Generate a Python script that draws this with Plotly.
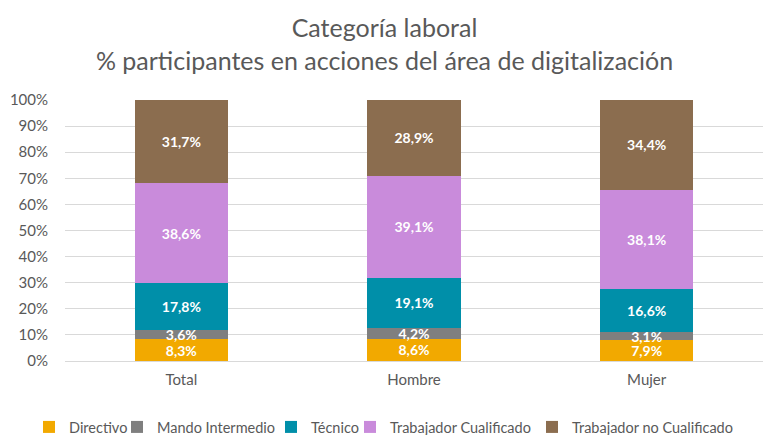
import plotly.graph_objects as go

categories = ["Total", "Hombre", "Mujer"]
directivo = [8.3, 8.6, 7.9]
mando = [3.6, 4.2, 3.1]
tecnico = [17.8, 19.1, 16.6]
cualificado = [38.6, 39.1, 38.1]
no_cualificado = [31.7, 28.9, 34.4]

series_names = ["Directivo", "Mando Intermedio", "Técnico",
                "Trabajador Cualificado", "Trabajador no Cualificado"]
series_values = [directivo, mando, tecnico, cualificado, no_cualificado]
series_colors = ["#F2A900", "#7F7F7F", "#008FA9", "#C98BDB", "#8B6D4F"]
# x (px) where each legend entry's text starts in the reference
legend_text_x = [69, 157, 311, 390, 572]

FONT = "Lato, Calibri, Carlito, sans-serif"
W, H = 769, 435

fig = go.Figure()
layout_legends = {}
for i, (name, vals, color) in enumerate(zip(series_names, series_values, series_colors)):
    lid = "legend" if i == 0 else f"legend{i+1}"
    fig.add_trace(go.Bar(
        name=name, x=categories, y=vals,
        marker=dict(color=color, line=dict(width=0)),
        texttemplate="%{y:.1f}%",
        textposition="inside",
        insidetextanchor="middle",
        constraintext="none",
        textfont=dict(color="white", size=14, family=FONT, weight="bold"),
        hoverinfo="skip",
        legend=lid,
    ))
    layout_legends[lid] = dict(
        orientation="h", xref="container", yref="container",
        x=(legend_text_x[i] - 40) / W, xanchor="left",
        y=1 - 427 / H, yanchor="middle",
        font=dict(size=14.5, color="#595959", family=FONT),
        itemwidth=30, bgcolor="rgba(0,0,0,0)",
    )

fig.update_layout(
    barmode="stack",
    bargap=0.6,
    separators=",.",
    width=W, height=H,
    margin=dict(l=65, r=6, t=100, b=74, autoexpand=False),
    paper_bgcolor="white", plot_bgcolor="white",
    font=dict(family=FONT, color="#595959", size=15),
    title=dict(
        text="Categoría laboral<br>% participantes en acciones del área de digitalización",
        x=0.5, xanchor="center", yref="container", y=1 - 37 / H, yanchor="middle",
        font=dict(size=25, color="#595959", family=FONT),
    ),
    xaxis=dict(showgrid=False, showline=False, ticks="", automargin=False,
               ticklabelstandoff=8, tickfont=dict(size=15, color="#595959")),
    yaxis=dict(
        range=[0, 100], dtick=10, ticksuffix="%", automargin=False,
        ticklabelstandoff=16,
        showgrid=True, gridcolor="#D9D9D9", gridwidth=1,
        zeroline=True, zerolinecolor="#D9D9D9", zerolinewidth=1,
        tickfont=dict(size=15, color="#595959"),
    ),
    showlegend=True,
    **layout_legends,
)

fig.write_html(
    "out.html",
    config={"displayModeBar": False},
    post_script="document.body.style.margin='0';document.body.style.overflow='hidden';",
)
